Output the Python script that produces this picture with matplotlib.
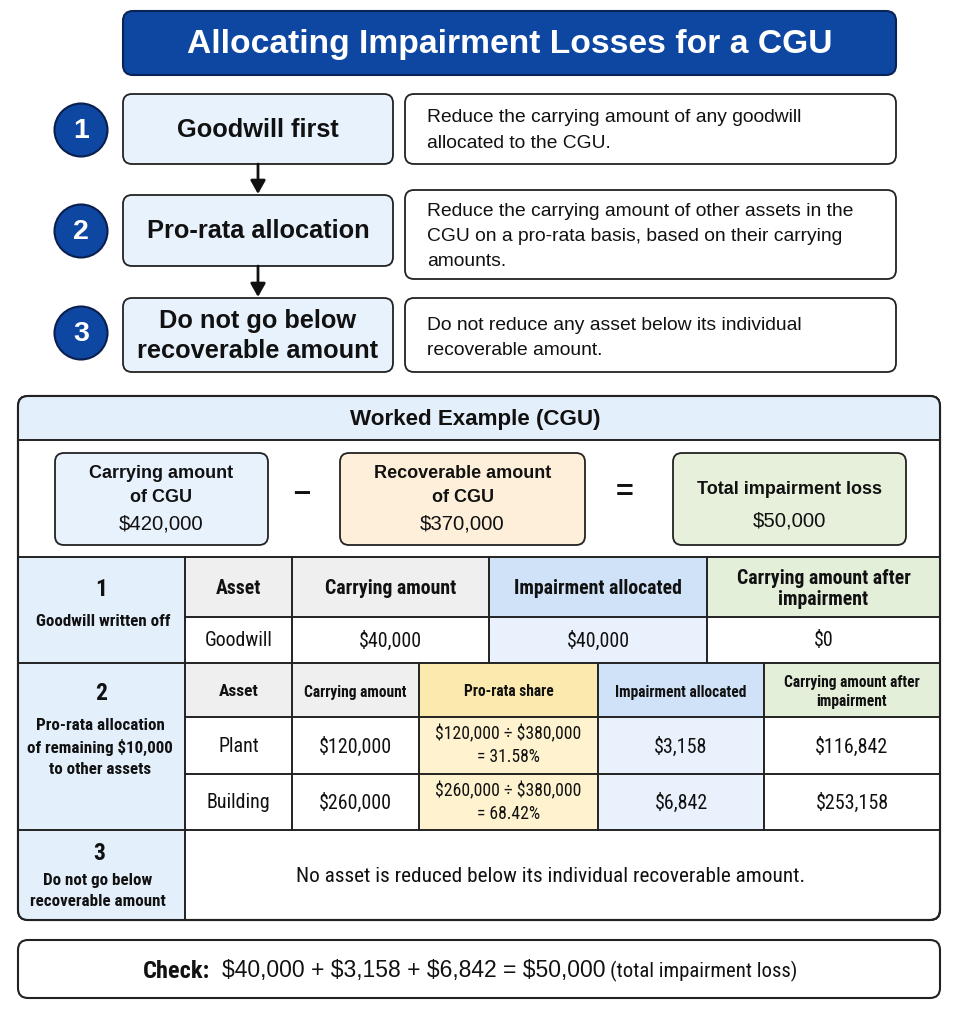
import matplotlib
matplotlib.use('Agg')
import matplotlib.pyplot as plt
from matplotlib.patches import FancyBboxPatch, Rectangle, Circle
from matplotlib.lines import Line2D

plt.rcParams['font.family'] = ['Liberation Sans', 'DejaVu Sans']
SANS = ['Liberation Sans', 'DejaVu Sans']
RC = ['Roboto Condensed', 'Liberation Sans', 'DejaVu Sans']

# ---------------- data ----------------
title = "Allocating Impairment Losses for a CGU"
step_numbers = ["1", "2", "3"]
step_titles = ["Goodwill first", "Pro-rata allocation", "Do not go below\nrecoverable amount"]
step_descriptions = [
    "Reduce the carrying amount of any goodwill\nallocated to the CGU.",
    "Reduce the carrying amount of other assets in the\nCGU on a pro-rata basis, based on their carrying\namounts.",
    "Do not reduce any asset below its individual\nrecoverable amount.",
]

example_title = "Worked Example (CGU)"
formula_labels = ["Carrying amount\nof CGU", "Recoverable amount\nof CGU", "Total impairment loss"]
formula_values = [420000, 370000, 50000]
formula_ops = ["–", "="]

s1_label = ["1", "Goodwill written off"]
s1_headers = ["Asset", "Carrying amount", "Impairment allocated", "Carrying amount after\nimpairment"]
s1_asset = "Goodwill"
s1_carrying = 40000
s1_impairment = 40000
s1_after = 0

s2_label = ["2", "Pro-rata allocation\nof remaining $10,000\nto other assets"]
s2_headers = ["Asset", "Carrying amount", "Pro-rata share", "Impairment allocated", "Carrying amount after\nimpairment"]
s2_assets = ["Plant", "Building"]
s2_carrying = [120000, 260000]
s2_pool = 380000
s2_share_pct = [31.58, 68.42]
s2_impairment = [3158, 6842]
s2_after = [116842, 253158]

s3_label = ["3", "Do not go below\nrecoverable amount"]
s3_text = "No asset is reduced below its individual recoverable amount."

check_label = "Check:"
check_terms = [40000, 3158, 6842]
check_total = 50000
check_note = "(total impairment loss)"


def money(v):
    return f"${v:,.0f}"


# ---------------- colours ----------------
DARK_BLUE = '#0D47A1'
EDGE = '#222222'
TXT = '#111111'
LIGHT_BLUE = '#E8F2FD'
HDR_BLUE = '#E3EFFB'
GRAY = '#EFEFEF'
BLUE_HDR = '#CFE2F8'
BLUE_CELL = '#E8F1FC'
GREEN_HDR = '#E4EFDA'
YELLOW_HDR = '#FCE9AE'
YELLOW_CELL = '#FEF3CE'
ORANGE = '#FDEFD9'
GREEN = '#E6F0DB'

W, H = 957, 1016
fig = plt.figure(figsize=(W / 100, H / 100), dpi=100)
ax = fig.add_axes([0, 0, 1, 1])
ax.set_xlim(0, W)
ax.set_ylim(H, 0)
ax.axis('off')
rend = fig.canvas.get_renderer()


def T(x, y, s, **kw):
    kw.setdefault('ha', 'center')
    kw.setdefault('va', 'center')
    kw.setdefault('zorder', 5)
    kw.setdefault('color', TXT)
    kw.setdefault('family', SANS)
    return ax.text(x, y, s, parse_math=False, **kw)


def size_for(s, target, base=20.0, **kw):
    kw.setdefault('family', SANS)
    t = ax.text(0, 0, s, fontsize=base, parse_math=False, **kw)
    w = t.get_window_extent(rend).width
    t.remove()
    return base * target / w


def rbox(x0, y0, x1, y1, fc, ec=EDGE, lw=1.3, r=9, z=2):
    p = FancyBboxPatch((x0, y0), x1 - x0, y1 - y0,
                       boxstyle=f"round,pad=0,rounding_size={r}",
                       fc=fc, ec=ec, lw=lw, zorder=z)
    ax.add_patch(p)
    return p


# ---------------- font sizes fitted to the reference widths ----------------
fs_title = size_for(title, 643, fontweight='bold')
fs_step = size_for(step_titles[1], 223, fontweight='bold')
fs_desc = size_for(step_descriptions[0].split('\n')[0], 373)
fs_ex = size_for(example_title, 251, fontweight='bold')
fs_flab = size_for("Recoverable amount", 177, fontweight='bold')
fs_fval = size_for(money(formula_values[0]), 85)
fs_h1 = size_for(s1_headers[1], 131, fontweight='bold', family=RC)
fs_b1 = size_for(money(s1_carrying), 63, family=RC)
fs_h2 = size_for(s2_headers[1], 103, fontweight='bold', family=RC)
fs_b2 = size_for(money(s2_carrying[0]), 73, family=RC)
fs_pr = size_for(f"{money(s2_carrying[0])} ÷ {money(s2_pool)}", 146, family=RC)
fs_lab = size_for("of remaining $10,000", 145, fontweight='bold', family=RC)
fs_s3 = size_for(s3_text, 507, family=RC)
check_mid = " + ".join(money(v) for v in check_terms) + f" = {money(check_total)}"
fs_ck = size_for(check_label, 67, fontweight='bold', family=RC)
fs_cm = size_for(check_mid, 384, family=SANS)
fs_cn = size_for(check_note, 187, family=RC)

# ---------------- title ----------------
rbox(123, 11, 896, 75, DARK_BLUE, ec='#0A2357', lw=1.5, r=10)
T(510, 45, title, color='white', fontsize=fs_title, fontweight='bold')

# ---------------- steps ----------------
step_box = [(94, 164), (195, 266), (298, 372)]
desc_box = [(94, 164), (190, 279), (298, 372)]
circle_y = [130, 231, 333]
desc_y0 = [118, 211, 325]
for i in range(3):
    ax.add_patch(Circle((81, circle_y[i]), 26.5, fc=DARK_BLUE, ec='#0A1F4D', lw=1.5, zorder=3))
    T(81, circle_y[i] + 1, step_numbers[i], color='white', fontsize=20.5, fontweight='bold')
    y0, y1 = step_box[i]
    rbox(123, y0, 393, y1, LIGHT_BLUE)
    lines = step_titles[i].split('\n')
    cy = (y0 + y1) / 2 + 1
    n = len(lines)
    for k, ln in enumerate(lines):
        T(258, cy + (k - (n - 1) / 2) * 29.5, ln, fontsize=fs_step, fontweight='bold')
    d0, d1 = desc_box[i]
    rbox(405, d0, 896, d1, 'white')
    for k, ln in enumerate(step_descriptions[i].split('\n')):
        T(427, desc_y0[i] + k * 25.5, ln, fontsize=fs_desc, ha='left')

# arrows
for ya, yb in [(164, 194), (266, 297)]:
    ax.annotate('', xy=(258, yb), xytext=(258, ya),
                arrowprops=dict(arrowstyle='-|>,head_width=0.45,head_length=0.8',
                                color=TXT, lw=2.0, shrinkA=0, shrinkB=0), zorder=3)

# ---------------- worked example ----------------
X0, X1, Y0, Y1 = 18, 940, 396, 920
rbox(X0, Y0, X1, Y1, 'white', lw=1.5, r=10, z=1)
outer_clip = rbox(X0, Y0, X1, Y1, 'none', ec='none', lw=0, r=10, z=0)


def cell(x0, y0, x1, y1, fc):
    r = Rectangle((x0, y0), x1 - x0, y1 - y0, fc=fc, ec='none', zorder=1.5)
    ax.add_patch(r)
    r.set_clip_path(outer_clip)


def hline(y, x0=X0, x1=X1, lw=1.4):
    ax.add_line(Line2D([x0, x1], [y, y], color=EDGE, lw=lw, zorder=3))


def vline(x, y0, y1, lw=1.4):
    ax.add_line(Line2D([x, x], [y0, y1], color=EDGE, lw=lw, zorder=3))


cell(X0, Y0, X1, 440, HDR_BLUE)
hline(440)
T(475, 420, example_title, fontsize=fs_ex, fontweight='bold')

# formula boxes
fboxes = [(55, 268, LIGHT_BLUE), (340, 585, ORANGE), (673, 906, GREEN)]
for i, (a, b, col) in enumerate(fboxes):
    rbox(a, 453, b, 545, col, lw=1.3, r=9, z=2)
    lines = formula_labels[i].split('\n')
    cx = (a + b) / 2
    if len(lines) == 2:
        T(cx, 473, lines[0], fontsize=fs_flab, fontweight='bold')
        T(cx, 497, lines[1], fontsize=fs_flab, fontweight='bold')
        T(cx, 524, money(formula_values[i]), fontsize=fs_fval)
    else:
        T(cx, 489, lines[0], fontsize=fs_flab, fontweight='bold')
        T(cx, 521, money(formula_values[i]), fontsize=fs_fval)
T(302, 493, formula_ops[0], fontsize=22, fontweight='bold')
T(625, 493, formula_ops[1], fontsize=22, fontweight='bold')
hline(557)

LC = 185  # left column right edge

# ----- section 1 -----
S1T, S1M, S1B = 557, 617, 663
cell(X0, S1T, LC, S1B, HDR_BLUE)
c1 = [LC, 292, 489, 707, X1]
hdr_cols1 = [GRAY, GRAY, BLUE_HDR, GREEN_HDR]
body_cols1 = ['white', 'white', BLUE_CELL, 'white']
body1 = [s1_asset, money(s1_carrying), money(s1_impairment), money(s1_after)]
for j in range(4):
    cell(c1[j], S1T, c1[j + 1], S1M, hdr_cols1[j])
    cell(c1[j], S1M, c1[j + 1], S1B, body_cols1[j])
    cx = (c1[j] + c1[j + 1]) / 2
    T(cx, (S1T + S1M) / 2 + 2, s1_headers[j], fontsize=fs_h1, fontweight='bold', family=RC,
      linespacing=1.15)
    T(cx, (S1M + S1B) / 2 + 1, body1[j], fontsize=fs_b1, family=RC)
T(101, 590, s1_label[0], fontsize=17, fontweight='bold', family=RC)
T(103, 621, s1_label[1], fontsize=fs_lab, fontweight='bold', family=RC)
hline(S1M, LC, X1)
for x in c1[:-1]:
    vline(x, S1T, S1B)
hline(S1B)

# ----- section 2 -----
S2T, S2H, S2R, S2B = 663, 717, 774, 830
cell(X0, S2T, LC, S2B, HDR_BLUE)
c2 = [LC, 292, 419, 598, 764, X1]
hdr_cols2 = [GRAY, GRAY, YELLOW_HDR, BLUE_HDR, GREEN_HDR]
body_cols2 = ['white', 'white', YELLOW_CELL, BLUE_CELL, 'white']
rows_y = [(S2H, S2R), (S2R, S2B)]
for j in range(5):
    cell(c2[j], S2T, c2[j + 1], S2H, hdr_cols2[j])
    cx = (c2[j] + c2[j + 1]) / 2
    T(cx, (S2T + S2H) / 2 + 2, s2_headers[j], fontsize=fs_h2 * (1.12 if j == 0 else 1.0),
      fontweight='bold', family=RC, linespacing=1.35)
    for r in range(2):
        ya, yb = rows_y[r]
        cell(c2[j], ya, c2[j + 1], yb, body_cols2[j])
for r in range(2):
    ya, yb = rows_y[r]
    cy = (ya + yb) / 2
    vals = [s2_assets[r], money(s2_carrying[r]), None, money(s2_impairment[r]), money(s2_after[r])]
    for j in range(5):
        cx = (c2[j] + c2[j + 1]) / 2
        if j == 2:
            T(cx, cy - 11, f"{money(s2_carrying[r])} ÷ {money(s2_pool)}", fontsize=fs_pr, family=RC)
            T(cx, cy + 12, f"= {s2_share_pct[r]:.2f}%", fontsize=fs_pr, family=RC)
        else:
            T(cx, cy + 1, vals[j], fontsize=fs_b2, family=RC)
T(101, 693, s2_label[0], fontsize=17, fontweight='bold', family=RC)
for k, ln in enumerate(s2_label[1].split('\n')):
    T(100, 725 + k * 22.5, ln, fontsize=fs_lab, fontweight='bold', family=RC)
hline(S2H, LC, X1)
hline(S2R, LC, X1)
for x in c2[:-1]:
    vline(x, S2T, S2B)
hline(S2B)

# ----- section 3 -----
cell(X0, S2B, LC, Y1, HDR_BLUE)
vline(LC, S2B, Y1)
T(99, 854, s3_label[0], fontsize=17, fontweight='bold', family=RC)
for k, ln in enumerate(s3_label[1].split('\n')):
    T(98, 880 + k * 21.5, ln, fontsize=fs_lab, fontweight='bold', family=RC)
T(551, 877, s3_text, fontsize=fs_s3, family=RC)

# outer border on top
rbox(X0, Y0, X1, Y1, 'none', lw=1.5, r=10, z=6)

# ---------------- check box ----------------
rbox(18, 940, 940, 998, 'white', lw=1.5, r=10)
T(143, 971, check_label, ha='left', family=RC, fontsize=fs_ck, fontweight='bold')
T(222, 971, check_mid, ha='left', family=SANS, fontsize=fs_cm)
T(610, 971, check_note, ha='left', family=RC, fontsize=fs_cn)

fig.savefig('out.png', dpi=100)
